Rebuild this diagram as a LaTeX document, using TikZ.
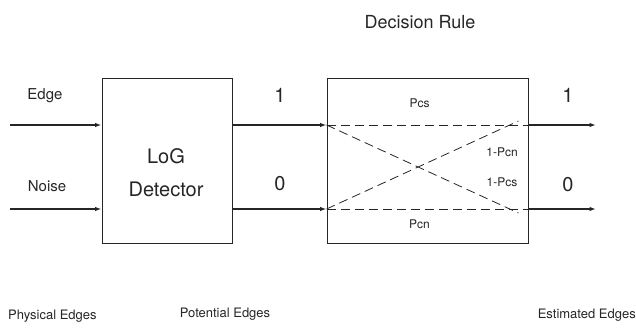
\documentclass[tikz,border=0pt]{standalone}
\usepackage{fontspec}
\setmainfont{TeX Gyre Heros}
\usetikzlibrary{arrows.meta}
\definecolor{ink}{gray}{0.15}
\begin{document}
\begin{tikzpicture}[x=1pt,y=-1pt,color=ink,
  block/.style={draw,line width=0.9pt,minimum width=#1,inner sep=0pt},
  flow/.style={line width=1.3pt,-{Latex[length=6.5pt,width=4.5pt]}},
  link/.style={dash pattern=on 9pt off 5pt,line width=0.8pt},
  lbl/.style={font=\fontsize{15}{18}\selectfont},
  foot/.style={font=\fontsize{13}{16}\selectfont},
  big/.style={font=\fontsize{20}{24}\selectfont},
  prob/.style={font=\fontsize{12}{14}\selectfont}]
\useasboundingbox (0,0) rectangle (636,328);
% blocks
\node[block=130pt,minimum height=165pt] (log) at (167,160.5) {};
\node[block=201pt,minimum height=165pt] (rule) at (427.5,160.5) {};
% end points of the signal lines
\coordinate (edgeIn) at (10,125);
\coordinate (noiseIn) at (10,209);
\coordinate (oneOut) at (596,125);
\coordinate (zeroOut) at (596,209);
\coordinate (logA) at (log.east |- edgeIn);
\coordinate (logB) at (log.east |- noiseIn);
\coordinate (ruleA) at (rule.west |- edgeIn);
\coordinate (ruleB) at (rule.west |- noiseIn);
\coordinate (ruleC) at (rule.east |- edgeIn);
\coordinate (ruleD) at (rule.east |- noiseIn);
% signal lines
\draw[flow] (edgeIn) -- (log.west |- edgeIn);
\draw[flow] (noiseIn) -- (log.west |- noiseIn);
\draw[flow] (logA) -- (ruleA);
\draw[flow] (logB) -- (ruleB);
\draw[flow] (ruleC) -- (oneOut);
\draw[flow] (ruleD) -- (zeroOut);
% transition paths
\draw[link] (ruleA) -- (ruleC);
\draw[link] (ruleB) -- (ruleD);
\draw[link] (ruleA) -- ([xshift=-10pt,yshift=-4pt]ruleD);
\draw[link] (ruleB) -- ([xshift=-10pt,yshift=4pt]ruleC);
% texts
\node[lbl] (tEdge) at (45,95.5) {Edge};
\node[lbl] (tNoise) at (47,186) {Noise};
\node[big] (tLog) at (166,156) {LoG};
\node[big] (tDet) at (166,189) {Detector};
\node[big] (tOne) at (280,95) {1};
\node[big] (tZero) at (280,184) {0};
\node[big] (tOneB) at (568,95) {1};
\node[big] (tZeroB) at (568,185) {0};
\node[font=\fontsize{18}{22}\selectfont] (tRule) at (420,22) {Decision Rule};
\node[prob] (pcs) at (419.5,103) {Pcs};
\node[prob] (pcn1) at (502,152) {1-Pcn};
\node[prob] (pcs1) at (502,182) {1-Pcs};
\node[prob] (pcn) at (419.5,224) {Pcn};
\node[foot,anchor=west,inner sep=0pt] (tPhys) at (8,316) {Physical Edges};
\node[foot] (tPot) at (225,314) {Potential Edges};
\node[foot,anchor=east,inner sep=0pt] (tEst) at (636,315) {Estimated Edges};
\end{tikzpicture}
\end{document}
